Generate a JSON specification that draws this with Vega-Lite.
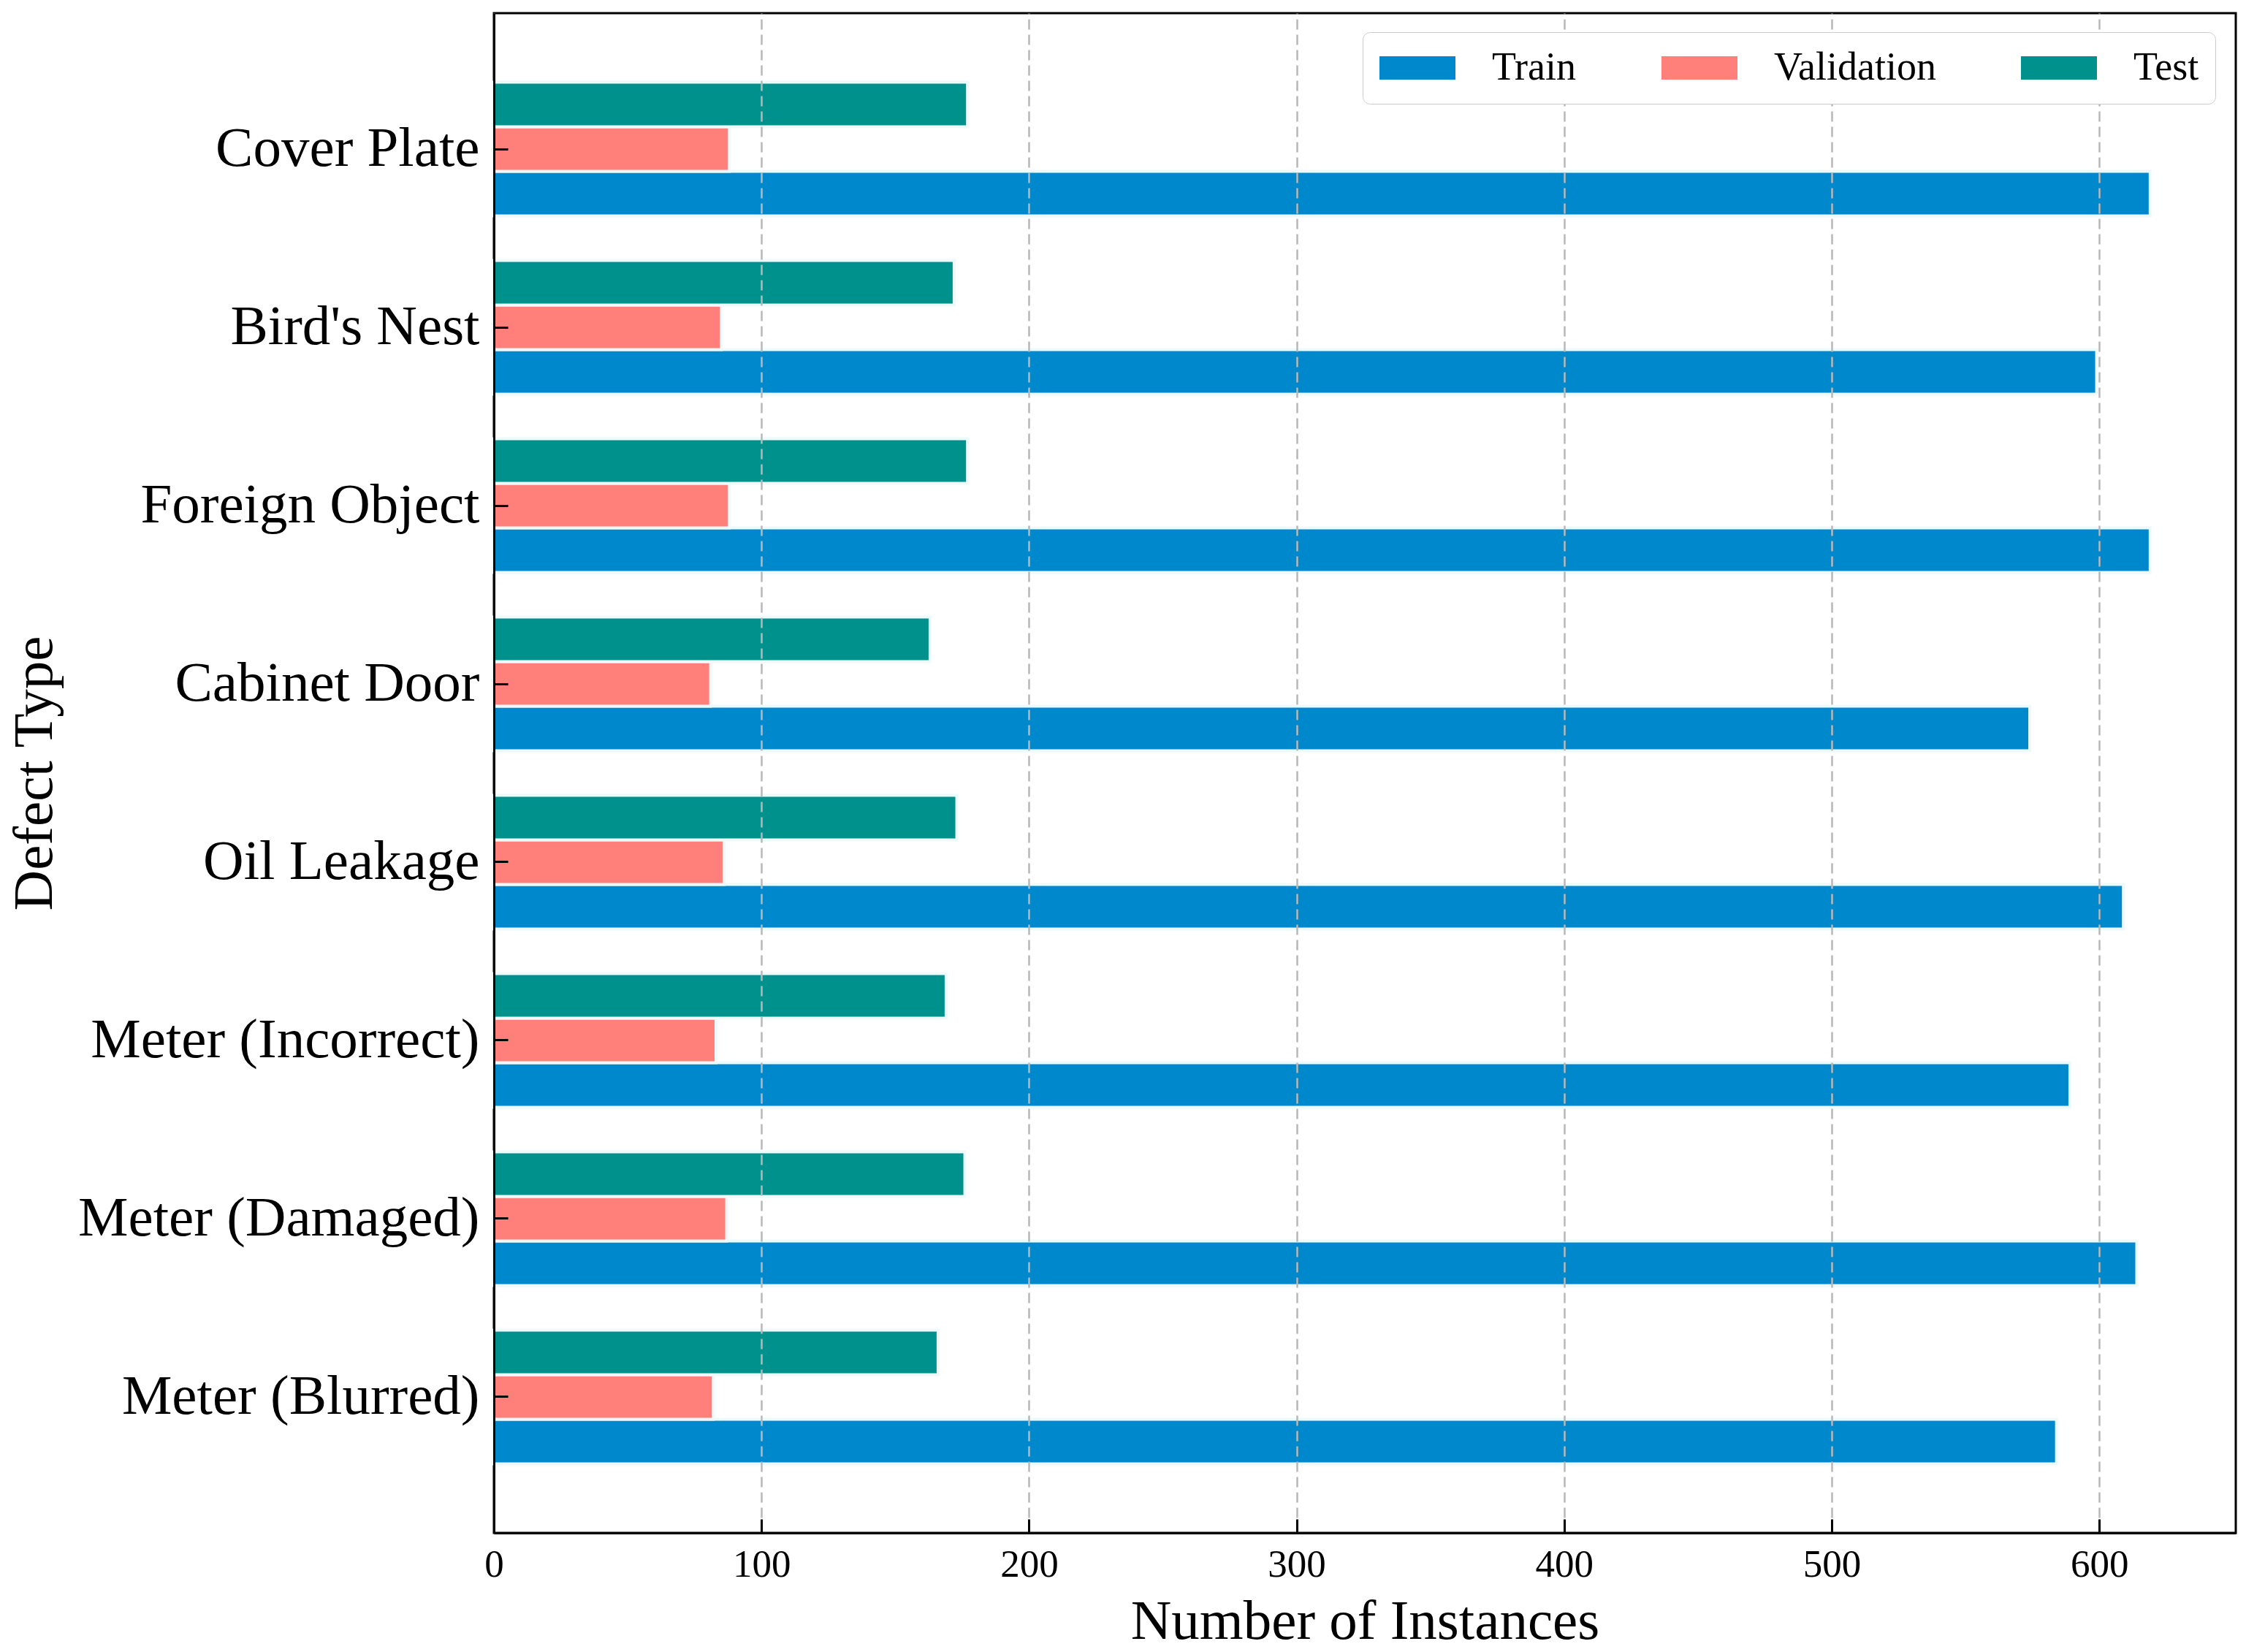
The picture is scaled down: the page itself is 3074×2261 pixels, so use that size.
{
  "$schema": "https://vega.github.io/schema/vega-lite/v6.json",
  "width": 2384,
  "height": 2080,
  "autosize": {"type": "none"},
  "padding": {"left": 676, "top": 18, "right": 14, "bottom": 163},
  "background": "white",
  "config": {
    "font": "Liberation Serif",
    "view": {"stroke": "black", "strokeWidth": 3},
    "axis": {
      "labelFont": "Liberation Serif",
      "titleFont": "Liberation Serif",
      "labelColor": "black",
      "titleColor": "black",
      "titleFontWeight": "normal",
      "domainColor": "black",
      "domainWidth": 3,
      "tickColor": "black",
      "tickWidth": 3,
      "tickSize": -19
    },
    "legend": {
      "labelFont": "Liberation Serif"
    }
  },
  "data": {
    "values": [
      {"defect": "Cover Plate", "split": "Train", "count": 619},
      {"defect": "Cover Plate", "split": "Validation", "count": 88},
      {"defect": "Cover Plate", "split": "Test", "count": 177},
      {"defect": "Bird's Nest", "split": "Train", "count": 599},
      {"defect": "Bird's Nest", "split": "Validation", "count": 85},
      {"defect": "Bird's Nest", "split": "Test", "count": 172},
      {"defect": "Foreign Object", "split": "Train", "count": 619},
      {"defect": "Foreign Object", "split": "Validation", "count": 88},
      {"defect": "Foreign Object", "split": "Test", "count": 177},
      {"defect": "Cabinet Door", "split": "Train", "count": 574},
      {"defect": "Cabinet Door", "split": "Validation", "count": 81},
      {"defect": "Cabinet Door", "split": "Test", "count": 163},
      {"defect": "Oil Leakage", "split": "Train", "count": 609},
      {"defect": "Oil Leakage", "split": "Validation", "count": 86},
      {"defect": "Oil Leakage", "split": "Test", "count": 173},
      {"defect": "Meter (Incorrect)", "split": "Train", "count": 589},
      {"defect": "Meter (Incorrect)", "split": "Validation", "count": 83},
      {"defect": "Meter (Incorrect)", "split": "Test", "count": 169},
      {"defect": "Meter (Damaged)", "split": "Train", "count": 614},
      {"defect": "Meter (Damaged)", "split": "Validation", "count": 87},
      {"defect": "Meter (Damaged)", "split": "Test", "count": 176},
      {"defect": "Meter (Blurred)", "split": "Train", "count": 584},
      {"defect": "Meter (Blurred)", "split": "Validation", "count": 82},
      {"defect": "Meter (Blurred)", "split": "Test", "count": 166}
    ]
  },
  "mark": {"type": "bar", "stroke": "#eef9f9", "strokeWidth": 4},
  "encoding": {
    "y": {
      "field": "defect",
      "type": "nominal",
      "sort": ["Cover Plate", "Bird's Nest", "Foreign Object", "Cabinet Door", "Oil Leakage", "Meter (Incorrect)", "Meter (Damaged)", "Meter (Blurred)"],
      "scale": {"paddingInner": 0.25, "paddingOuter": 0.3875},
      "title": "Defect Type",
      "axis": {
        "zindex": 1,
        "bandPosition": 0.5,
        "labelFontSize": 77,
        "labelLimit": 0,
        "labelPadding": 39,
        "titleFontSize": 77,
        "titleX": -606,
        "titleBaseline": "alphabetic",
        "grid": false
      }
    },
    "yOffset": {
      "field": "split",
      "type": "nominal",
      "sort": ["Test", "Validation", "Train"],
      "scale": {"paddingInner": 0, "paddingOuter": 0}
    },
    "x": {
      "field": "count",
      "type": "quantitative",
      "scale": {"domain": [0, 651], "nice": false},
      "title": "Number of Instances",
      "axis": {
        "zindex": 1,
        "values": [0, 100, 200, 300, 400, 500, 600],
        "labelFlush": false,
        "labelFontSize": 53,
        "labelPadding": 36,
        "titleFontSize": 77,
        "titlePadding": 13,
        "grid": true,
        "gridColor": "#b8b8b8",
        "gridWidth": 2.5,
        "gridDash": [14, 7]
      }
    },
    "color": {
      "field": "split",
      "type": "nominal",
      "scale": {
        "domain": ["Train", "Validation", "Test"],
        "range": ["#0088cc", "#ff7f7a", "#00918c"]
      },
      "legend": {
        "title": null,
        "orient": "none",
        "direction": "horizontal",
        "legendX": 1189,
        "legendY": 26,
        "zindex": 2,
        "fillColor": "white",
        "strokeColor": "#cccccc",
        "cornerRadius": 10,
        "padding": 22,
        "labelFontSize": 54,
        "labelLimit": 0,
        "labelColor": "black",
        "labelOffset": 75,
        "columnPadding": 115,
        "symbolType": "M-2,-0.6154H2V0.6154H-2Z",
        "symbolSize": 2704,
        "symbolOffset": 26,
        "symbolStrokeWidth": 0,
        "symbolOpacity": 1,
        "encode": {"legend": {"update": {"strokeWidth": {"value": 3}}}}
      }
    }
  }
}
